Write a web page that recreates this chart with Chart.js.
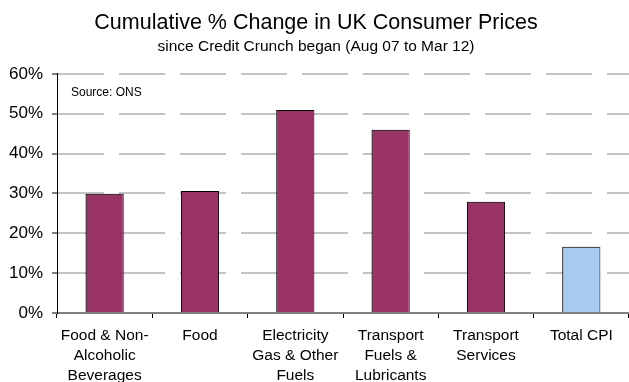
<!DOCTYPE html>
<html>
<head>
<meta charset="utf-8">
<script src="https://cdn.jsdelivr.net/npm/chart.js@4.4.0/dist/chart.umd.min.js"></script>
<style>
  html, body { margin: 0; padding: 0; background: #fff; }
  #chartContainer { width: 629px; height: 382px; }
</style>
</head>
<body>
<div id="chartContainer"><canvas id="grafico"></canvas></div>
<script>
// categorias y valores (% acumulado, ago 07 a mar 12)
var categorias = [
  ['Food & Non-', 'Alcoholic', 'Beverages'],
  ['Food'],
  ['Electricity', 'Gas & Other', 'Fuels'],
  ['Transport', 'Fuels &', 'Lubricants'],
  ['Transport', 'Services'],
  ['Total CPI']
];
var valores = [29.9, 30.6, 50.9, 46.0, 27.9, 16.6];
var colores = ['#993366', '#993366', '#993366', '#993366', '#993366', '#A6CAF0'];
var ticksY = [0, 10, 20, 30, 40, 50, 60];

var fuenteTexto = '"Liberation Sans", Arial, sans-serif';

// sombra gris a la izquierda de las barras
var sombraBarras = {
  id: 'sombraBarras',
  beforeDatasetsDraw: function (chart) {
    var ctx = chart.ctx;
    ctx.save();
    ctx.shadowColor = 'rgba(0,0,0,0.35)';
    ctx.shadowOffsetX = -2;
    ctx.shadowOffsetY = 0;
    ctx.shadowBlur = 0;
  },
  afterDatasetsDraw: function (chart) {
    chart.ctx.restore();
  }
};

// texto de la fuente dentro del grafico
var fuente = {
  id: 'fuente',
  afterDraw: function (chart) {
    var ctx = chart.ctx;
    ctx.save();
    ctx.font = '12px ' + fuenteTexto;
    ctx.fillStyle = '#000';
    ctx.textBaseline = 'middle';
    ctx.fillText('Source: ONS', chart.chartArea.left + 14, chart.chartArea.top + 19);
    ctx.restore();
  }
};

var ctx = document.getElementById('grafico').getContext('2d');
var myChart = new Chart(ctx, {
  type: 'bar',
  data: {
    labels: categorias,
    datasets: [{
      data: valores,
      backgroundColor: colores,
      borderColor: '#000',
      borderWidth: 1,
      barPercentage: 0.4,
      categoryPercentage: 1
    }]
  },
  options: {
    responsive: true,
    maintainAspectRatio: false,
    animation: false,
    layout: { padding: { left: 0, right: -3, top: 0, bottom: 0 } },
    plugins: {
      legend: { display: false },
      tooltip: { enabled: false },
      title: {
        display: true,
        text: 'Cumulative % Change in UK Consumer Prices',
        color: '#000',
        font: { family: fuenteTexto, size: 21.5, weight: 'normal', lineHeight: 1.2 },
        padding: { top: 10, bottom: 2 }
      },
      subtitle: {
        display: true,
        text: 'since Credit Crunch began (Aug 07 to Mar 12)',
        color: '#000',
        font: { family: fuenteTexto, size: 15.5, lineHeight: 1.1 },
        padding: { top: 0, bottom: 19 }
      }
    },
    scales: {
      x: {
        afterFit: function (scale) { scale.height = 69; },
        grid: {
          offset: true,
          drawOnChartArea: false,
          drawTicks: true,
          tickLength: 5,
          color: '#000'
        },
        border: { display: true, color: '#808080', width: 2 },
        ticks: {
          color: '#000',
          padding: 8,
          maxRotation: 0,
          autoSkip: false,
          font: { family: fuenteTexto, size: 15.5, lineHeight: 1.29 }
        }
      },
      y: {
        min: 0,
        max: 60,
        afterFit: function (scale) { scale.width = 57; },
        afterBuildTicks: function (scale) {
          scale.ticks = ticksY.map(function (v) { return { value: v }; });
        },
        grid: {
          color: function (c) { return c.tick && c.tick.value === 0 ? 'rgba(0,0,0,0)' : '#c4c4c4'; },
          lineWidth: 2,
          tickLength: 5,
          tickColor: '#000',
          tickWidth: 1
        },
        border: { display: true, color: '#000', width: 1, dash: [46, 15] },
        ticks: {
          color: '#000',
          padding: 9,
          font: { family: fuenteTexto, size: 17 },
          callback: function (v) { return v + '%'; }
        }
      }
    }
  },
  plugins: [sombraBarras, fuente]
});
</script>
</body>
</html>
